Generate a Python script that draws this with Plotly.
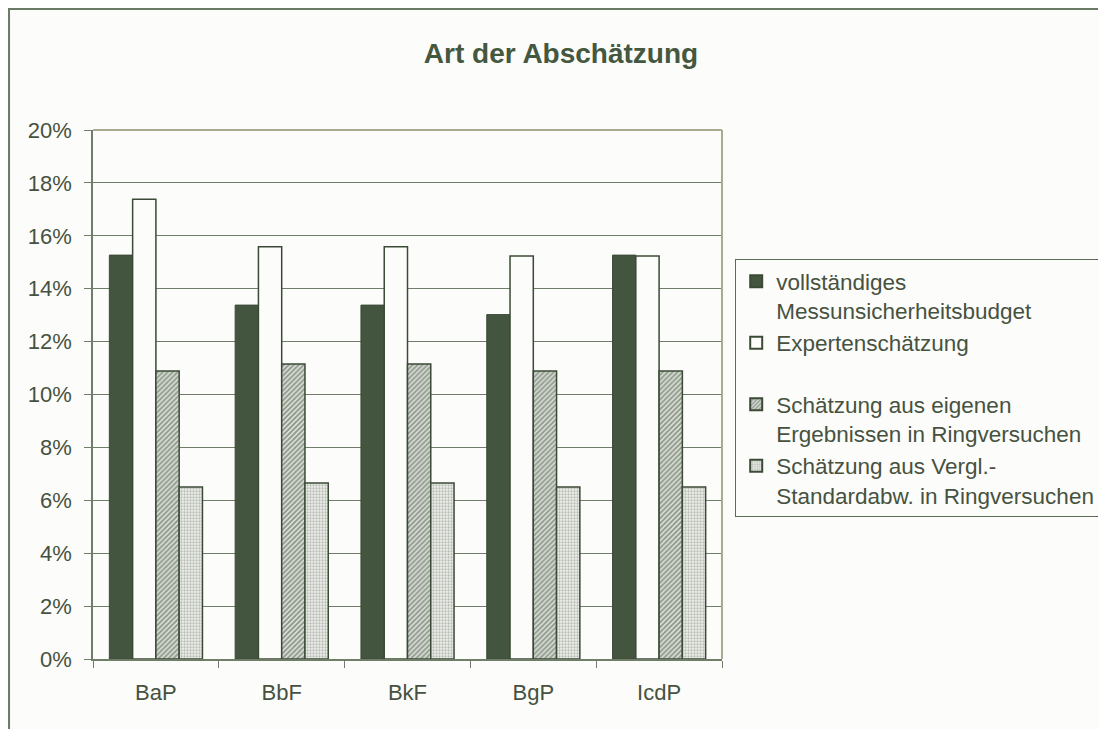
import plotly.graph_objects as go

categories = ["BaP", "BbF", "BkF", "BgP", "IcdP"]
series_names = [
    "vollständiges<br>Messunsicherheitsbudget",
    "Expertenschätzung<br> ",
    "Schätzung aus eigenen<br>Ergebnissen in Ringversuchen",
    "Schätzung aus Vergl.-<br>Standardabw. in Ringversuchen",
]
vollstaendig = [0.1527, 0.1338, 0.1338, 0.1302, 0.1527]
experten = [0.1738, 0.1559, 0.1559, 0.1524, 0.1524]
eigene = [0.1089, 0.1115, 0.1115, 0.1089, 0.1089]
vergl = [0.0650, 0.0665, 0.0665, 0.0650, 0.0650]

DARK = "#44553f"
LINE = "#3b4a37"
BG = "#fcfcfa"
TXT = "#46523f"
AX = "#6f7d69"
FONT = "Liberation Sans, Arial, sans-serif"

fig = go.Figure()
fig.add_bar(x=categories, y=vollstaendig, name=series_names[0],
            marker=dict(color=DARK, line=dict(color=LINE, width=1)))
fig.add_bar(x=categories, y=experten, name=series_names[1],
            marker=dict(color=BG, line=dict(color=LINE, width=1.5)))
fig.add_bar(x=categories, y=eigene, name=series_names[2],
            marker=dict(color="#c8cdc4", line=dict(color=LINE, width=1.5),
                        pattern=dict(shape="/", fgcolor="#3f4f3b", bgcolor="#dfe3dc",
                                     size=3.5, solidity=0.55)))
fig.add_bar(x=categories, y=vergl, name=series_names[3],
            marker=dict(color="#e4e6e2", line=dict(color=LINE, width=1.5),
                        pattern=dict(shape=".", fgcolor="#7f8a7b", bgcolor="#eef0ec",
                                     size=3, solidity=0.45)))

fig.update_layout(
    width=1106, height=729,
    margin=dict(l=85, r=392, t=122, b=78, autoexpand=False),
    paper_bgcolor=BG, plot_bgcolor=BG,
    font=dict(family=FONT, size=22, color=TXT),
    barmode="group", bargap=0.26, bargroupgap=0,
    title=dict(text="<b>Art der Abschätzung</b>", x=0.5, xref="container",
               xanchor="center", y=0.938, yref="container", yanchor="middle",
               font=dict(family=FONT, size=28, color="#44573f")),
    legend=dict(x=1.021, xanchor="left", y=0.756, yanchor="top",
                bgcolor=BG, bordercolor="#5d6c58", borderwidth=1,
                font=dict(family=FONT, size=22.5, color=TXT),
                valign="top", itemsizing="constant", traceorder="normal",
                tracegroupgap=0),
    showlegend=True,
)
fig.update_xaxes(type="category", showgrid=False, showline=True, linecolor=AX,
                 linewidth=1.5, ticks="outside", tickson="boundaries", ticklen=7,
                 tickcolor=AX, ticklabelstandoff=13,
                 tickfont=dict(size=22, color=TXT))
fig.update_yaxes(range=[0, 0.2], dtick=0.02, tickformat=".0%", showgrid=True,
                 gridcolor=AX, gridwidth=1, showline=True, linecolor=AX,
                 linewidth=1.5, ticks="outside", ticklen=7, tickcolor=AX,
                 ticklabelstandoff=8,
                 tickfont=dict(size=22, color=TXT), zeroline=False)

# plot-area border (top and right) and outer chart frame
fig.add_shape(type="line", xref="paper", yref="paper", x0=0, x1=1, y0=1, y1=1,
              line=dict(color="#a9aa90", width=2))
fig.add_shape(type="line", xref="paper", yref="paper", x0=1, x1=1, y0=0, y1=1,
              line=dict(color="#a9aa90", width=2))
fig.add_shape(type="rect", xref="paper", yref="paper", x0=-0.1335, x1=1.65,
              y0=-0.2, y1=1.2287, line=dict(color="#6b7a66", width=2), layer="below")

fig.write_html("out.html")
